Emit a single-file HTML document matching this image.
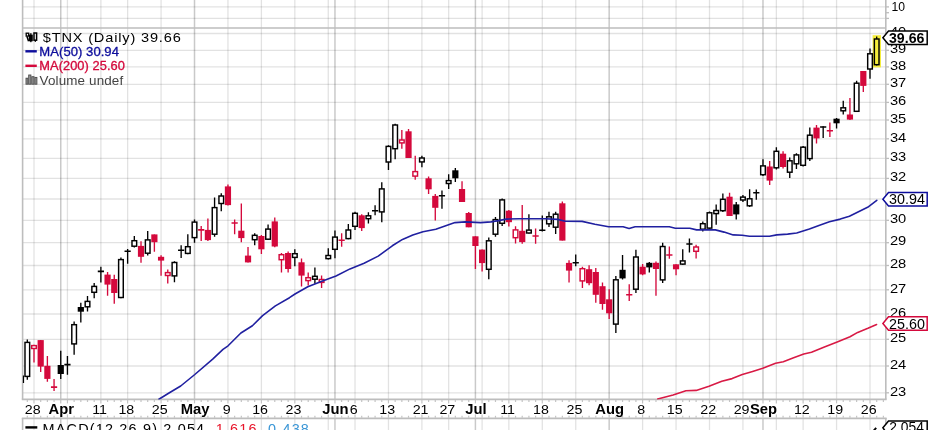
<!DOCTYPE html>
<html><head><meta charset="utf-8"><title>$TNX</title>
<style>
html,body{margin:0;padding:0;background:#fff;}
body{width:936px;height:430px;position:relative;overflow:hidden;font-family:"Liberation Sans",sans-serif;color:#000;}
svg{position:absolute;left:0;top:0;display:block;will-change:transform;opacity:0.9999}
</style></head><body>
<svg width="936" height="430" viewBox="0 0 936 430" font-family="Liberation Sans, sans-serif">
<rect x="0" y="0" width="936" height="430" fill="#fff"/>
<line x1="34.00" y1="0" x2="34.00" y2="28.0" stroke="#000" stroke-opacity="0.115" stroke-width="1.3"/>
<line x1="67.44" y1="0" x2="67.44" y2="28.0" stroke="#000" stroke-opacity="0.115" stroke-width="1.3"/>
<line x1="100.88" y1="0" x2="100.88" y2="28.0" stroke="#000" stroke-opacity="0.115" stroke-width="1.3"/>
<line x1="127.63" y1="0" x2="127.63" y2="28.0" stroke="#000" stroke-opacity="0.115" stroke-width="1.3"/>
<line x1="161.07" y1="0" x2="161.07" y2="28.0" stroke="#000" stroke-opacity="0.115" stroke-width="1.3"/>
<line x1="227.95" y1="0" x2="227.95" y2="28.0" stroke="#000" stroke-opacity="0.115" stroke-width="1.3"/>
<line x1="261.39" y1="0" x2="261.39" y2="28.0" stroke="#000" stroke-opacity="0.115" stroke-width="1.3"/>
<line x1="294.83" y1="0" x2="294.83" y2="28.0" stroke="#000" stroke-opacity="0.115" stroke-width="1.3"/>
<line x1="328.27" y1="0" x2="328.27" y2="28.0" stroke="#000" stroke-opacity="0.115" stroke-width="1.3"/>
<line x1="355.02" y1="0" x2="355.02" y2="28.0" stroke="#000" stroke-opacity="0.115" stroke-width="1.3"/>
<line x1="388.46" y1="0" x2="388.46" y2="28.0" stroke="#000" stroke-opacity="0.115" stroke-width="1.3"/>
<line x1="421.90" y1="0" x2="421.90" y2="28.0" stroke="#000" stroke-opacity="0.115" stroke-width="1.3"/>
<line x1="448.66" y1="0" x2="448.66" y2="28.0" stroke="#000" stroke-opacity="0.115" stroke-width="1.3"/>
<line x1="482.10" y1="0" x2="482.10" y2="28.0" stroke="#000" stroke-opacity="0.115" stroke-width="1.3"/>
<line x1="508.85" y1="0" x2="508.85" y2="28.0" stroke="#000" stroke-opacity="0.115" stroke-width="1.3"/>
<line x1="542.29" y1="0" x2="542.29" y2="28.0" stroke="#000" stroke-opacity="0.115" stroke-width="1.3"/>
<line x1="575.73" y1="0" x2="575.73" y2="28.0" stroke="#000" stroke-opacity="0.115" stroke-width="1.3"/>
<line x1="642.61" y1="0" x2="642.61" y2="28.0" stroke="#000" stroke-opacity="0.115" stroke-width="1.3"/>
<line x1="676.05" y1="0" x2="676.05" y2="28.0" stroke="#000" stroke-opacity="0.115" stroke-width="1.3"/>
<line x1="709.49" y1="0" x2="709.49" y2="28.0" stroke="#000" stroke-opacity="0.115" stroke-width="1.3"/>
<line x1="742.93" y1="0" x2="742.93" y2="28.0" stroke="#000" stroke-opacity="0.115" stroke-width="1.3"/>
<line x1="776.37" y1="0" x2="776.37" y2="28.0" stroke="#000" stroke-opacity="0.115" stroke-width="1.3"/>
<line x1="803.12" y1="0" x2="803.12" y2="28.0" stroke="#000" stroke-opacity="0.115" stroke-width="1.3"/>
<line x1="836.56" y1="0" x2="836.56" y2="28.0" stroke="#000" stroke-opacity="0.115" stroke-width="1.3"/>
<line x1="870.00" y1="0" x2="870.00" y2="28.0" stroke="#000" stroke-opacity="0.115" stroke-width="1.3"/>
<line x1="60.75" y1="0" x2="60.75" y2="28.0" stroke="#000" stroke-opacity="0.21" stroke-width="1.5"/>
<line x1="194.51" y1="0" x2="194.51" y2="28.0" stroke="#000" stroke-opacity="0.21" stroke-width="1.5"/>
<line x1="334.96" y1="0" x2="334.96" y2="28.0" stroke="#000" stroke-opacity="0.21" stroke-width="1.5"/>
<line x1="475.41" y1="0" x2="475.41" y2="28.0" stroke="#000" stroke-opacity="0.21" stroke-width="1.5"/>
<line x1="609.17" y1="0" x2="609.17" y2="28.0" stroke="#000" stroke-opacity="0.21" stroke-width="1.5"/>
<line x1="762.99" y1="0" x2="762.99" y2="28.0" stroke="#000" stroke-opacity="0.21" stroke-width="1.5"/>
<line x1="34.00" y1="28.0" x2="34.00" y2="399.4" stroke="#000" stroke-opacity="0.115" stroke-width="1.3"/>
<line x1="67.44" y1="28.0" x2="67.44" y2="399.4" stroke="#000" stroke-opacity="0.115" stroke-width="1.3"/>
<line x1="100.88" y1="28.0" x2="100.88" y2="399.4" stroke="#000" stroke-opacity="0.115" stroke-width="1.3"/>
<line x1="127.63" y1="28.0" x2="127.63" y2="399.4" stroke="#000" stroke-opacity="0.115" stroke-width="1.3"/>
<line x1="161.07" y1="28.0" x2="161.07" y2="399.4" stroke="#000" stroke-opacity="0.115" stroke-width="1.3"/>
<line x1="227.95" y1="28.0" x2="227.95" y2="399.4" stroke="#000" stroke-opacity="0.115" stroke-width="1.3"/>
<line x1="261.39" y1="28.0" x2="261.39" y2="399.4" stroke="#000" stroke-opacity="0.115" stroke-width="1.3"/>
<line x1="294.83" y1="28.0" x2="294.83" y2="399.4" stroke="#000" stroke-opacity="0.115" stroke-width="1.3"/>
<line x1="328.27" y1="28.0" x2="328.27" y2="399.4" stroke="#000" stroke-opacity="0.115" stroke-width="1.3"/>
<line x1="355.02" y1="28.0" x2="355.02" y2="399.4" stroke="#000" stroke-opacity="0.115" stroke-width="1.3"/>
<line x1="388.46" y1="28.0" x2="388.46" y2="399.4" stroke="#000" stroke-opacity="0.115" stroke-width="1.3"/>
<line x1="421.90" y1="28.0" x2="421.90" y2="399.4" stroke="#000" stroke-opacity="0.115" stroke-width="1.3"/>
<line x1="448.66" y1="28.0" x2="448.66" y2="399.4" stroke="#000" stroke-opacity="0.115" stroke-width="1.3"/>
<line x1="482.10" y1="28.0" x2="482.10" y2="399.4" stroke="#000" stroke-opacity="0.115" stroke-width="1.3"/>
<line x1="508.85" y1="28.0" x2="508.85" y2="399.4" stroke="#000" stroke-opacity="0.115" stroke-width="1.3"/>
<line x1="542.29" y1="28.0" x2="542.29" y2="399.4" stroke="#000" stroke-opacity="0.115" stroke-width="1.3"/>
<line x1="575.73" y1="28.0" x2="575.73" y2="399.4" stroke="#000" stroke-opacity="0.115" stroke-width="1.3"/>
<line x1="642.61" y1="28.0" x2="642.61" y2="399.4" stroke="#000" stroke-opacity="0.115" stroke-width="1.3"/>
<line x1="676.05" y1="28.0" x2="676.05" y2="399.4" stroke="#000" stroke-opacity="0.115" stroke-width="1.3"/>
<line x1="709.49" y1="28.0" x2="709.49" y2="399.4" stroke="#000" stroke-opacity="0.115" stroke-width="1.3"/>
<line x1="742.93" y1="28.0" x2="742.93" y2="399.4" stroke="#000" stroke-opacity="0.115" stroke-width="1.3"/>
<line x1="776.37" y1="28.0" x2="776.37" y2="399.4" stroke="#000" stroke-opacity="0.115" stroke-width="1.3"/>
<line x1="803.12" y1="28.0" x2="803.12" y2="399.4" stroke="#000" stroke-opacity="0.115" stroke-width="1.3"/>
<line x1="836.56" y1="28.0" x2="836.56" y2="399.4" stroke="#000" stroke-opacity="0.115" stroke-width="1.3"/>
<line x1="870.00" y1="28.0" x2="870.00" y2="399.4" stroke="#000" stroke-opacity="0.115" stroke-width="1.3"/>
<line x1="60.75" y1="28.0" x2="60.75" y2="399.4" stroke="#000" stroke-opacity="0.21" stroke-width="1.5"/>
<line x1="194.51" y1="28.0" x2="194.51" y2="399.4" stroke="#000" stroke-opacity="0.21" stroke-width="1.5"/>
<line x1="334.96" y1="28.0" x2="334.96" y2="399.4" stroke="#000" stroke-opacity="0.21" stroke-width="1.5"/>
<line x1="475.41" y1="28.0" x2="475.41" y2="399.4" stroke="#000" stroke-opacity="0.21" stroke-width="1.5"/>
<line x1="609.17" y1="28.0" x2="609.17" y2="399.4" stroke="#000" stroke-opacity="0.21" stroke-width="1.5"/>
<line x1="762.99" y1="28.0" x2="762.99" y2="399.4" stroke="#000" stroke-opacity="0.21" stroke-width="1.5"/>
<line x1="34.00" y1="418" x2="34.00" y2="430" stroke="#000" stroke-opacity="0.115" stroke-width="1.3"/>
<line x1="67.44" y1="418" x2="67.44" y2="430" stroke="#000" stroke-opacity="0.115" stroke-width="1.3"/>
<line x1="100.88" y1="418" x2="100.88" y2="430" stroke="#000" stroke-opacity="0.115" stroke-width="1.3"/>
<line x1="127.63" y1="418" x2="127.63" y2="430" stroke="#000" stroke-opacity="0.115" stroke-width="1.3"/>
<line x1="161.07" y1="418" x2="161.07" y2="430" stroke="#000" stroke-opacity="0.115" stroke-width="1.3"/>
<line x1="227.95" y1="418" x2="227.95" y2="430" stroke="#000" stroke-opacity="0.115" stroke-width="1.3"/>
<line x1="261.39" y1="418" x2="261.39" y2="430" stroke="#000" stroke-opacity="0.115" stroke-width="1.3"/>
<line x1="294.83" y1="418" x2="294.83" y2="430" stroke="#000" stroke-opacity="0.115" stroke-width="1.3"/>
<line x1="328.27" y1="418" x2="328.27" y2="430" stroke="#000" stroke-opacity="0.115" stroke-width="1.3"/>
<line x1="355.02" y1="418" x2="355.02" y2="430" stroke="#000" stroke-opacity="0.115" stroke-width="1.3"/>
<line x1="388.46" y1="418" x2="388.46" y2="430" stroke="#000" stroke-opacity="0.115" stroke-width="1.3"/>
<line x1="421.90" y1="418" x2="421.90" y2="430" stroke="#000" stroke-opacity="0.115" stroke-width="1.3"/>
<line x1="448.66" y1="418" x2="448.66" y2="430" stroke="#000" stroke-opacity="0.115" stroke-width="1.3"/>
<line x1="482.10" y1="418" x2="482.10" y2="430" stroke="#000" stroke-opacity="0.115" stroke-width="1.3"/>
<line x1="508.85" y1="418" x2="508.85" y2="430" stroke="#000" stroke-opacity="0.115" stroke-width="1.3"/>
<line x1="542.29" y1="418" x2="542.29" y2="430" stroke="#000" stroke-opacity="0.115" stroke-width="1.3"/>
<line x1="575.73" y1="418" x2="575.73" y2="430" stroke="#000" stroke-opacity="0.115" stroke-width="1.3"/>
<line x1="642.61" y1="418" x2="642.61" y2="430" stroke="#000" stroke-opacity="0.115" stroke-width="1.3"/>
<line x1="676.05" y1="418" x2="676.05" y2="430" stroke="#000" stroke-opacity="0.115" stroke-width="1.3"/>
<line x1="709.49" y1="418" x2="709.49" y2="430" stroke="#000" stroke-opacity="0.115" stroke-width="1.3"/>
<line x1="742.93" y1="418" x2="742.93" y2="430" stroke="#000" stroke-opacity="0.115" stroke-width="1.3"/>
<line x1="776.37" y1="418" x2="776.37" y2="430" stroke="#000" stroke-opacity="0.115" stroke-width="1.3"/>
<line x1="803.12" y1="418" x2="803.12" y2="430" stroke="#000" stroke-opacity="0.115" stroke-width="1.3"/>
<line x1="836.56" y1="418" x2="836.56" y2="430" stroke="#000" stroke-opacity="0.115" stroke-width="1.3"/>
<line x1="870.00" y1="418" x2="870.00" y2="430" stroke="#000" stroke-opacity="0.115" stroke-width="1.3"/>
<line x1="60.75" y1="418" x2="60.75" y2="430" stroke="#000" stroke-opacity="0.21" stroke-width="1.5"/>
<line x1="194.51" y1="418" x2="194.51" y2="430" stroke="#000" stroke-opacity="0.21" stroke-width="1.5"/>
<line x1="334.96" y1="418" x2="334.96" y2="430" stroke="#000" stroke-opacity="0.21" stroke-width="1.5"/>
<line x1="475.41" y1="418" x2="475.41" y2="430" stroke="#000" stroke-opacity="0.21" stroke-width="1.5"/>
<line x1="609.17" y1="418" x2="609.17" y2="430" stroke="#000" stroke-opacity="0.21" stroke-width="1.5"/>
<line x1="762.99" y1="418" x2="762.99" y2="430" stroke="#000" stroke-opacity="0.21" stroke-width="1.5"/>
<line x1="22.6" y1="6.9" x2="885.8" y2="6.9" stroke="#000" stroke-opacity="0.115" stroke-width="1.3"/>
<line x1="22.6" y1="18.4" x2="885.8" y2="18.4" stroke="#000" stroke-opacity="0.115" stroke-width="1.3"/>
<line x1="22.6" y1="392.80" x2="885.8" y2="392.80" stroke="#000" stroke-opacity="0.115" stroke-width="1.3"/>
<line x1="22.6" y1="366.00" x2="885.8" y2="366.00" stroke="#000" stroke-opacity="0.115" stroke-width="1.3"/>
<line x1="22.6" y1="339.30" x2="885.8" y2="339.30" stroke="#000" stroke-opacity="0.115" stroke-width="1.3"/>
<line x1="22.6" y1="314.00" x2="885.8" y2="314.00" stroke="#000" stroke-opacity="0.115" stroke-width="1.3"/>
<line x1="22.6" y1="289.80" x2="885.8" y2="289.80" stroke="#000" stroke-opacity="0.115" stroke-width="1.3"/>
<line x1="22.6" y1="265.50" x2="885.8" y2="265.50" stroke="#000" stroke-opacity="0.115" stroke-width="1.3"/>
<line x1="22.6" y1="242.70" x2="885.8" y2="242.70" stroke="#000" stroke-opacity="0.115" stroke-width="1.3"/>
<line x1="22.6" y1="220.30" x2="885.8" y2="220.30" stroke="#000" stroke-opacity="0.115" stroke-width="1.3"/>
<line x1="22.6" y1="199.00" x2="885.8" y2="199.00" stroke="#000" stroke-opacity="0.115" stroke-width="1.3"/>
<line x1="22.6" y1="178.40" x2="885.8" y2="178.40" stroke="#000" stroke-opacity="0.115" stroke-width="1.3"/>
<line x1="22.6" y1="158.40" x2="885.8" y2="158.40" stroke="#000" stroke-opacity="0.115" stroke-width="1.3"/>
<line x1="22.6" y1="138.80" x2="885.8" y2="138.80" stroke="#000" stroke-opacity="0.115" stroke-width="1.3"/>
<line x1="22.6" y1="120.00" x2="885.8" y2="120.00" stroke="#000" stroke-opacity="0.115" stroke-width="1.3"/>
<line x1="22.6" y1="102.40" x2="885.8" y2="102.40" stroke="#000" stroke-opacity="0.115" stroke-width="1.3"/>
<line x1="22.6" y1="84.30" x2="885.8" y2="84.30" stroke="#000" stroke-opacity="0.115" stroke-width="1.3"/>
<line x1="22.6" y1="66.90" x2="885.8" y2="66.90" stroke="#000" stroke-opacity="0.115" stroke-width="1.3"/>
<line x1="22.6" y1="50.30" x2="885.8" y2="50.30" stroke="#000" stroke-opacity="0.115" stroke-width="1.3"/>
<line x1="22.6" y1="33.50" x2="885.8" y2="33.50" stroke="#000" stroke-opacity="0.115" stroke-width="1.3"/>
<line x1="22.6" y1="0" x2="22.6" y2="399.4" stroke="#bdbdbd" stroke-width="1.6"/>
<line x1="885.8" y1="0" x2="885.8" y2="399.4" stroke="#bdbdbd" stroke-width="1.6"/>
<line x1="22.6" y1="28.0" x2="885.8" y2="28.0" stroke="#bdbdbd" stroke-width="1.6"/>
<line x1="21.8" y1="399.4" x2="886.5999999999999" y2="399.4" stroke="#bdbdbd" stroke-width="1.6"/>
<line x1="21.8" y1="418.4" x2="886.5999999999999" y2="418.4" stroke="#bdbdbd" stroke-width="1.6"/>
<line x1="22.6" y1="418" x2="22.6" y2="430" stroke="#bdbdbd" stroke-width="1.6"/>
<line x1="885.8" y1="418" x2="885.8" y2="430" stroke="#bdbdbd" stroke-width="1.6"/>
<line x1="27.31" y1="400.0" x2="27.31" y2="402.0" stroke="#c4c4c4" stroke-width="1.2"/>
<line x1="27.31" y1="415.8" x2="27.31" y2="417.8" stroke="#c4c4c4" stroke-width="1.2"/>
<line x1="34.00" y1="400.0" x2="34.00" y2="403.4" stroke="#c4c4c4" stroke-width="1.2"/>
<line x1="34.00" y1="414.40000000000003" x2="34.00" y2="417.8" stroke="#c4c4c4" stroke-width="1.2"/>
<line x1="40.69" y1="400.0" x2="40.69" y2="402.0" stroke="#c4c4c4" stroke-width="1.2"/>
<line x1="40.69" y1="415.8" x2="40.69" y2="417.8" stroke="#c4c4c4" stroke-width="1.2"/>
<line x1="47.38" y1="400.0" x2="47.38" y2="402.0" stroke="#c4c4c4" stroke-width="1.2"/>
<line x1="47.38" y1="415.8" x2="47.38" y2="417.8" stroke="#c4c4c4" stroke-width="1.2"/>
<line x1="54.06" y1="400.0" x2="54.06" y2="402.0" stroke="#c4c4c4" stroke-width="1.2"/>
<line x1="54.06" y1="415.8" x2="54.06" y2="417.8" stroke="#c4c4c4" stroke-width="1.2"/>
<line x1="60.75" y1="400.0" x2="60.75" y2="403.4" stroke="#c4c4c4" stroke-width="1.2"/>
<line x1="60.75" y1="414.40000000000003" x2="60.75" y2="417.8" stroke="#c4c4c4" stroke-width="1.2"/>
<line x1="67.44" y1="400.0" x2="67.44" y2="403.4" stroke="#c4c4c4" stroke-width="1.2"/>
<line x1="67.44" y1="414.40000000000003" x2="67.44" y2="417.8" stroke="#c4c4c4" stroke-width="1.2"/>
<line x1="74.13" y1="400.0" x2="74.13" y2="402.0" stroke="#c4c4c4" stroke-width="1.2"/>
<line x1="74.13" y1="415.8" x2="74.13" y2="417.8" stroke="#c4c4c4" stroke-width="1.2"/>
<line x1="80.82" y1="400.0" x2="80.82" y2="402.0" stroke="#c4c4c4" stroke-width="1.2"/>
<line x1="80.82" y1="415.8" x2="80.82" y2="417.8" stroke="#c4c4c4" stroke-width="1.2"/>
<line x1="87.50" y1="400.0" x2="87.50" y2="402.0" stroke="#c4c4c4" stroke-width="1.2"/>
<line x1="87.50" y1="415.8" x2="87.50" y2="417.8" stroke="#c4c4c4" stroke-width="1.2"/>
<line x1="94.19" y1="400.0" x2="94.19" y2="402.0" stroke="#c4c4c4" stroke-width="1.2"/>
<line x1="94.19" y1="415.8" x2="94.19" y2="417.8" stroke="#c4c4c4" stroke-width="1.2"/>
<line x1="100.88" y1="400.0" x2="100.88" y2="403.4" stroke="#c4c4c4" stroke-width="1.2"/>
<line x1="100.88" y1="414.40000000000003" x2="100.88" y2="417.8" stroke="#c4c4c4" stroke-width="1.2"/>
<line x1="107.57" y1="400.0" x2="107.57" y2="402.0" stroke="#c4c4c4" stroke-width="1.2"/>
<line x1="107.57" y1="415.8" x2="107.57" y2="417.8" stroke="#c4c4c4" stroke-width="1.2"/>
<line x1="114.26" y1="400.0" x2="114.26" y2="402.0" stroke="#c4c4c4" stroke-width="1.2"/>
<line x1="114.26" y1="415.8" x2="114.26" y2="417.8" stroke="#c4c4c4" stroke-width="1.2"/>
<line x1="120.94" y1="400.0" x2="120.94" y2="402.0" stroke="#c4c4c4" stroke-width="1.2"/>
<line x1="120.94" y1="415.8" x2="120.94" y2="417.8" stroke="#c4c4c4" stroke-width="1.2"/>
<line x1="127.63" y1="400.0" x2="127.63" y2="403.4" stroke="#c4c4c4" stroke-width="1.2"/>
<line x1="127.63" y1="414.40000000000003" x2="127.63" y2="417.8" stroke="#c4c4c4" stroke-width="1.2"/>
<line x1="134.32" y1="400.0" x2="134.32" y2="402.0" stroke="#c4c4c4" stroke-width="1.2"/>
<line x1="134.32" y1="415.8" x2="134.32" y2="417.8" stroke="#c4c4c4" stroke-width="1.2"/>
<line x1="141.01" y1="400.0" x2="141.01" y2="402.0" stroke="#c4c4c4" stroke-width="1.2"/>
<line x1="141.01" y1="415.8" x2="141.01" y2="417.8" stroke="#c4c4c4" stroke-width="1.2"/>
<line x1="147.70" y1="400.0" x2="147.70" y2="402.0" stroke="#c4c4c4" stroke-width="1.2"/>
<line x1="147.70" y1="415.8" x2="147.70" y2="417.8" stroke="#c4c4c4" stroke-width="1.2"/>
<line x1="154.38" y1="400.0" x2="154.38" y2="402.0" stroke="#c4c4c4" stroke-width="1.2"/>
<line x1="154.38" y1="415.8" x2="154.38" y2="417.8" stroke="#c4c4c4" stroke-width="1.2"/>
<line x1="161.07" y1="400.0" x2="161.07" y2="403.4" stroke="#c4c4c4" stroke-width="1.2"/>
<line x1="161.07" y1="414.40000000000003" x2="161.07" y2="417.8" stroke="#c4c4c4" stroke-width="1.2"/>
<line x1="167.76" y1="400.0" x2="167.76" y2="402.0" stroke="#c4c4c4" stroke-width="1.2"/>
<line x1="167.76" y1="415.8" x2="167.76" y2="417.8" stroke="#c4c4c4" stroke-width="1.2"/>
<line x1="174.45" y1="400.0" x2="174.45" y2="402.0" stroke="#c4c4c4" stroke-width="1.2"/>
<line x1="174.45" y1="415.8" x2="174.45" y2="417.8" stroke="#c4c4c4" stroke-width="1.2"/>
<line x1="181.14" y1="400.0" x2="181.14" y2="402.0" stroke="#c4c4c4" stroke-width="1.2"/>
<line x1="181.14" y1="415.8" x2="181.14" y2="417.8" stroke="#c4c4c4" stroke-width="1.2"/>
<line x1="187.82" y1="400.0" x2="187.82" y2="402.0" stroke="#c4c4c4" stroke-width="1.2"/>
<line x1="187.82" y1="415.8" x2="187.82" y2="417.8" stroke="#c4c4c4" stroke-width="1.2"/>
<line x1="194.51" y1="400.0" x2="194.51" y2="403.4" stroke="#c4c4c4" stroke-width="1.2"/>
<line x1="194.51" y1="414.40000000000003" x2="194.51" y2="417.8" stroke="#c4c4c4" stroke-width="1.2"/>
<line x1="201.20" y1="400.0" x2="201.20" y2="402.0" stroke="#c4c4c4" stroke-width="1.2"/>
<line x1="201.20" y1="415.8" x2="201.20" y2="417.8" stroke="#c4c4c4" stroke-width="1.2"/>
<line x1="207.89" y1="400.0" x2="207.89" y2="402.0" stroke="#c4c4c4" stroke-width="1.2"/>
<line x1="207.89" y1="415.8" x2="207.89" y2="417.8" stroke="#c4c4c4" stroke-width="1.2"/>
<line x1="214.58" y1="400.0" x2="214.58" y2="402.0" stroke="#c4c4c4" stroke-width="1.2"/>
<line x1="214.58" y1="415.8" x2="214.58" y2="417.8" stroke="#c4c4c4" stroke-width="1.2"/>
<line x1="221.26" y1="400.0" x2="221.26" y2="402.0" stroke="#c4c4c4" stroke-width="1.2"/>
<line x1="221.26" y1="415.8" x2="221.26" y2="417.8" stroke="#c4c4c4" stroke-width="1.2"/>
<line x1="227.95" y1="400.0" x2="227.95" y2="403.4" stroke="#c4c4c4" stroke-width="1.2"/>
<line x1="227.95" y1="414.40000000000003" x2="227.95" y2="417.8" stroke="#c4c4c4" stroke-width="1.2"/>
<line x1="234.64" y1="400.0" x2="234.64" y2="402.0" stroke="#c4c4c4" stroke-width="1.2"/>
<line x1="234.64" y1="415.8" x2="234.64" y2="417.8" stroke="#c4c4c4" stroke-width="1.2"/>
<line x1="241.33" y1="400.0" x2="241.33" y2="402.0" stroke="#c4c4c4" stroke-width="1.2"/>
<line x1="241.33" y1="415.8" x2="241.33" y2="417.8" stroke="#c4c4c4" stroke-width="1.2"/>
<line x1="248.02" y1="400.0" x2="248.02" y2="402.0" stroke="#c4c4c4" stroke-width="1.2"/>
<line x1="248.02" y1="415.8" x2="248.02" y2="417.8" stroke="#c4c4c4" stroke-width="1.2"/>
<line x1="254.70" y1="400.0" x2="254.70" y2="402.0" stroke="#c4c4c4" stroke-width="1.2"/>
<line x1="254.70" y1="415.8" x2="254.70" y2="417.8" stroke="#c4c4c4" stroke-width="1.2"/>
<line x1="261.39" y1="400.0" x2="261.39" y2="403.4" stroke="#c4c4c4" stroke-width="1.2"/>
<line x1="261.39" y1="414.40000000000003" x2="261.39" y2="417.8" stroke="#c4c4c4" stroke-width="1.2"/>
<line x1="268.08" y1="400.0" x2="268.08" y2="402.0" stroke="#c4c4c4" stroke-width="1.2"/>
<line x1="268.08" y1="415.8" x2="268.08" y2="417.8" stroke="#c4c4c4" stroke-width="1.2"/>
<line x1="274.77" y1="400.0" x2="274.77" y2="402.0" stroke="#c4c4c4" stroke-width="1.2"/>
<line x1="274.77" y1="415.8" x2="274.77" y2="417.8" stroke="#c4c4c4" stroke-width="1.2"/>
<line x1="281.46" y1="400.0" x2="281.46" y2="402.0" stroke="#c4c4c4" stroke-width="1.2"/>
<line x1="281.46" y1="415.8" x2="281.46" y2="417.8" stroke="#c4c4c4" stroke-width="1.2"/>
<line x1="288.14" y1="400.0" x2="288.14" y2="402.0" stroke="#c4c4c4" stroke-width="1.2"/>
<line x1="288.14" y1="415.8" x2="288.14" y2="417.8" stroke="#c4c4c4" stroke-width="1.2"/>
<line x1="294.83" y1="400.0" x2="294.83" y2="403.4" stroke="#c4c4c4" stroke-width="1.2"/>
<line x1="294.83" y1="414.40000000000003" x2="294.83" y2="417.8" stroke="#c4c4c4" stroke-width="1.2"/>
<line x1="301.52" y1="400.0" x2="301.52" y2="402.0" stroke="#c4c4c4" stroke-width="1.2"/>
<line x1="301.52" y1="415.8" x2="301.52" y2="417.8" stroke="#c4c4c4" stroke-width="1.2"/>
<line x1="308.21" y1="400.0" x2="308.21" y2="402.0" stroke="#c4c4c4" stroke-width="1.2"/>
<line x1="308.21" y1="415.8" x2="308.21" y2="417.8" stroke="#c4c4c4" stroke-width="1.2"/>
<line x1="314.90" y1="400.0" x2="314.90" y2="402.0" stroke="#c4c4c4" stroke-width="1.2"/>
<line x1="314.90" y1="415.8" x2="314.90" y2="417.8" stroke="#c4c4c4" stroke-width="1.2"/>
<line x1="321.58" y1="400.0" x2="321.58" y2="402.0" stroke="#c4c4c4" stroke-width="1.2"/>
<line x1="321.58" y1="415.8" x2="321.58" y2="417.8" stroke="#c4c4c4" stroke-width="1.2"/>
<line x1="328.27" y1="400.0" x2="328.27" y2="403.4" stroke="#c4c4c4" stroke-width="1.2"/>
<line x1="328.27" y1="414.40000000000003" x2="328.27" y2="417.8" stroke="#c4c4c4" stroke-width="1.2"/>
<line x1="334.96" y1="400.0" x2="334.96" y2="403.4" stroke="#c4c4c4" stroke-width="1.2"/>
<line x1="334.96" y1="414.40000000000003" x2="334.96" y2="417.8" stroke="#c4c4c4" stroke-width="1.2"/>
<line x1="341.65" y1="400.0" x2="341.65" y2="402.0" stroke="#c4c4c4" stroke-width="1.2"/>
<line x1="341.65" y1="415.8" x2="341.65" y2="417.8" stroke="#c4c4c4" stroke-width="1.2"/>
<line x1="348.34" y1="400.0" x2="348.34" y2="402.0" stroke="#c4c4c4" stroke-width="1.2"/>
<line x1="348.34" y1="415.8" x2="348.34" y2="417.8" stroke="#c4c4c4" stroke-width="1.2"/>
<line x1="355.02" y1="400.0" x2="355.02" y2="403.4" stroke="#c4c4c4" stroke-width="1.2"/>
<line x1="355.02" y1="414.40000000000003" x2="355.02" y2="417.8" stroke="#c4c4c4" stroke-width="1.2"/>
<line x1="361.71" y1="400.0" x2="361.71" y2="402.0" stroke="#c4c4c4" stroke-width="1.2"/>
<line x1="361.71" y1="415.8" x2="361.71" y2="417.8" stroke="#c4c4c4" stroke-width="1.2"/>
<line x1="368.40" y1="400.0" x2="368.40" y2="402.0" stroke="#c4c4c4" stroke-width="1.2"/>
<line x1="368.40" y1="415.8" x2="368.40" y2="417.8" stroke="#c4c4c4" stroke-width="1.2"/>
<line x1="375.09" y1="400.0" x2="375.09" y2="402.0" stroke="#c4c4c4" stroke-width="1.2"/>
<line x1="375.09" y1="415.8" x2="375.09" y2="417.8" stroke="#c4c4c4" stroke-width="1.2"/>
<line x1="381.78" y1="400.0" x2="381.78" y2="402.0" stroke="#c4c4c4" stroke-width="1.2"/>
<line x1="381.78" y1="415.8" x2="381.78" y2="417.8" stroke="#c4c4c4" stroke-width="1.2"/>
<line x1="388.46" y1="400.0" x2="388.46" y2="403.4" stroke="#c4c4c4" stroke-width="1.2"/>
<line x1="388.46" y1="414.40000000000003" x2="388.46" y2="417.8" stroke="#c4c4c4" stroke-width="1.2"/>
<line x1="395.15" y1="400.0" x2="395.15" y2="402.0" stroke="#c4c4c4" stroke-width="1.2"/>
<line x1="395.15" y1="415.8" x2="395.15" y2="417.8" stroke="#c4c4c4" stroke-width="1.2"/>
<line x1="401.84" y1="400.0" x2="401.84" y2="402.0" stroke="#c4c4c4" stroke-width="1.2"/>
<line x1="401.84" y1="415.8" x2="401.84" y2="417.8" stroke="#c4c4c4" stroke-width="1.2"/>
<line x1="408.53" y1="400.0" x2="408.53" y2="402.0" stroke="#c4c4c4" stroke-width="1.2"/>
<line x1="408.53" y1="415.8" x2="408.53" y2="417.8" stroke="#c4c4c4" stroke-width="1.2"/>
<line x1="415.22" y1="400.0" x2="415.22" y2="402.0" stroke="#c4c4c4" stroke-width="1.2"/>
<line x1="415.22" y1="415.8" x2="415.22" y2="417.8" stroke="#c4c4c4" stroke-width="1.2"/>
<line x1="421.90" y1="400.0" x2="421.90" y2="403.4" stroke="#c4c4c4" stroke-width="1.2"/>
<line x1="421.90" y1="414.40000000000003" x2="421.90" y2="417.8" stroke="#c4c4c4" stroke-width="1.2"/>
<line x1="428.59" y1="400.0" x2="428.59" y2="402.0" stroke="#c4c4c4" stroke-width="1.2"/>
<line x1="428.59" y1="415.8" x2="428.59" y2="417.8" stroke="#c4c4c4" stroke-width="1.2"/>
<line x1="435.28" y1="400.0" x2="435.28" y2="402.0" stroke="#c4c4c4" stroke-width="1.2"/>
<line x1="435.28" y1="415.8" x2="435.28" y2="417.8" stroke="#c4c4c4" stroke-width="1.2"/>
<line x1="441.97" y1="400.0" x2="441.97" y2="402.0" stroke="#c4c4c4" stroke-width="1.2"/>
<line x1="441.97" y1="415.8" x2="441.97" y2="417.8" stroke="#c4c4c4" stroke-width="1.2"/>
<line x1="448.66" y1="400.0" x2="448.66" y2="403.4" stroke="#c4c4c4" stroke-width="1.2"/>
<line x1="448.66" y1="414.40000000000003" x2="448.66" y2="417.8" stroke="#c4c4c4" stroke-width="1.2"/>
<line x1="455.34" y1="400.0" x2="455.34" y2="402.0" stroke="#c4c4c4" stroke-width="1.2"/>
<line x1="455.34" y1="415.8" x2="455.34" y2="417.8" stroke="#c4c4c4" stroke-width="1.2"/>
<line x1="462.03" y1="400.0" x2="462.03" y2="402.0" stroke="#c4c4c4" stroke-width="1.2"/>
<line x1="462.03" y1="415.8" x2="462.03" y2="417.8" stroke="#c4c4c4" stroke-width="1.2"/>
<line x1="468.72" y1="400.0" x2="468.72" y2="402.0" stroke="#c4c4c4" stroke-width="1.2"/>
<line x1="468.72" y1="415.8" x2="468.72" y2="417.8" stroke="#c4c4c4" stroke-width="1.2"/>
<line x1="475.41" y1="400.0" x2="475.41" y2="403.4" stroke="#c4c4c4" stroke-width="1.2"/>
<line x1="475.41" y1="414.40000000000003" x2="475.41" y2="417.8" stroke="#c4c4c4" stroke-width="1.2"/>
<line x1="482.10" y1="400.0" x2="482.10" y2="403.4" stroke="#c4c4c4" stroke-width="1.2"/>
<line x1="482.10" y1="414.40000000000003" x2="482.10" y2="417.8" stroke="#c4c4c4" stroke-width="1.2"/>
<line x1="488.78" y1="400.0" x2="488.78" y2="402.0" stroke="#c4c4c4" stroke-width="1.2"/>
<line x1="488.78" y1="415.8" x2="488.78" y2="417.8" stroke="#c4c4c4" stroke-width="1.2"/>
<line x1="495.47" y1="400.0" x2="495.47" y2="402.0" stroke="#c4c4c4" stroke-width="1.2"/>
<line x1="495.47" y1="415.8" x2="495.47" y2="417.8" stroke="#c4c4c4" stroke-width="1.2"/>
<line x1="502.16" y1="400.0" x2="502.16" y2="402.0" stroke="#c4c4c4" stroke-width="1.2"/>
<line x1="502.16" y1="415.8" x2="502.16" y2="417.8" stroke="#c4c4c4" stroke-width="1.2"/>
<line x1="508.85" y1="400.0" x2="508.85" y2="403.4" stroke="#c4c4c4" stroke-width="1.2"/>
<line x1="508.85" y1="414.40000000000003" x2="508.85" y2="417.8" stroke="#c4c4c4" stroke-width="1.2"/>
<line x1="515.54" y1="400.0" x2="515.54" y2="402.0" stroke="#c4c4c4" stroke-width="1.2"/>
<line x1="515.54" y1="415.8" x2="515.54" y2="417.8" stroke="#c4c4c4" stroke-width="1.2"/>
<line x1="522.22" y1="400.0" x2="522.22" y2="402.0" stroke="#c4c4c4" stroke-width="1.2"/>
<line x1="522.22" y1="415.8" x2="522.22" y2="417.8" stroke="#c4c4c4" stroke-width="1.2"/>
<line x1="528.91" y1="400.0" x2="528.91" y2="402.0" stroke="#c4c4c4" stroke-width="1.2"/>
<line x1="528.91" y1="415.8" x2="528.91" y2="417.8" stroke="#c4c4c4" stroke-width="1.2"/>
<line x1="535.60" y1="400.0" x2="535.60" y2="402.0" stroke="#c4c4c4" stroke-width="1.2"/>
<line x1="535.60" y1="415.8" x2="535.60" y2="417.8" stroke="#c4c4c4" stroke-width="1.2"/>
<line x1="542.29" y1="400.0" x2="542.29" y2="403.4" stroke="#c4c4c4" stroke-width="1.2"/>
<line x1="542.29" y1="414.40000000000003" x2="542.29" y2="417.8" stroke="#c4c4c4" stroke-width="1.2"/>
<line x1="548.98" y1="400.0" x2="548.98" y2="402.0" stroke="#c4c4c4" stroke-width="1.2"/>
<line x1="548.98" y1="415.8" x2="548.98" y2="417.8" stroke="#c4c4c4" stroke-width="1.2"/>
<line x1="555.66" y1="400.0" x2="555.66" y2="402.0" stroke="#c4c4c4" stroke-width="1.2"/>
<line x1="555.66" y1="415.8" x2="555.66" y2="417.8" stroke="#c4c4c4" stroke-width="1.2"/>
<line x1="562.35" y1="400.0" x2="562.35" y2="402.0" stroke="#c4c4c4" stroke-width="1.2"/>
<line x1="562.35" y1="415.8" x2="562.35" y2="417.8" stroke="#c4c4c4" stroke-width="1.2"/>
<line x1="569.04" y1="400.0" x2="569.04" y2="402.0" stroke="#c4c4c4" stroke-width="1.2"/>
<line x1="569.04" y1="415.8" x2="569.04" y2="417.8" stroke="#c4c4c4" stroke-width="1.2"/>
<line x1="575.73" y1="400.0" x2="575.73" y2="403.4" stroke="#c4c4c4" stroke-width="1.2"/>
<line x1="575.73" y1="414.40000000000003" x2="575.73" y2="417.8" stroke="#c4c4c4" stroke-width="1.2"/>
<line x1="582.42" y1="400.0" x2="582.42" y2="402.0" stroke="#c4c4c4" stroke-width="1.2"/>
<line x1="582.42" y1="415.8" x2="582.42" y2="417.8" stroke="#c4c4c4" stroke-width="1.2"/>
<line x1="589.10" y1="400.0" x2="589.10" y2="402.0" stroke="#c4c4c4" stroke-width="1.2"/>
<line x1="589.10" y1="415.8" x2="589.10" y2="417.8" stroke="#c4c4c4" stroke-width="1.2"/>
<line x1="595.79" y1="400.0" x2="595.79" y2="402.0" stroke="#c4c4c4" stroke-width="1.2"/>
<line x1="595.79" y1="415.8" x2="595.79" y2="417.8" stroke="#c4c4c4" stroke-width="1.2"/>
<line x1="602.48" y1="400.0" x2="602.48" y2="402.0" stroke="#c4c4c4" stroke-width="1.2"/>
<line x1="602.48" y1="415.8" x2="602.48" y2="417.8" stroke="#c4c4c4" stroke-width="1.2"/>
<line x1="609.17" y1="400.0" x2="609.17" y2="403.4" stroke="#c4c4c4" stroke-width="1.2"/>
<line x1="609.17" y1="414.40000000000003" x2="609.17" y2="417.8" stroke="#c4c4c4" stroke-width="1.2"/>
<line x1="615.86" y1="400.0" x2="615.86" y2="402.0" stroke="#c4c4c4" stroke-width="1.2"/>
<line x1="615.86" y1="415.8" x2="615.86" y2="417.8" stroke="#c4c4c4" stroke-width="1.2"/>
<line x1="622.54" y1="400.0" x2="622.54" y2="402.0" stroke="#c4c4c4" stroke-width="1.2"/>
<line x1="622.54" y1="415.8" x2="622.54" y2="417.8" stroke="#c4c4c4" stroke-width="1.2"/>
<line x1="629.23" y1="400.0" x2="629.23" y2="402.0" stroke="#c4c4c4" stroke-width="1.2"/>
<line x1="629.23" y1="415.8" x2="629.23" y2="417.8" stroke="#c4c4c4" stroke-width="1.2"/>
<line x1="635.92" y1="400.0" x2="635.92" y2="402.0" stroke="#c4c4c4" stroke-width="1.2"/>
<line x1="635.92" y1="415.8" x2="635.92" y2="417.8" stroke="#c4c4c4" stroke-width="1.2"/>
<line x1="642.61" y1="400.0" x2="642.61" y2="403.4" stroke="#c4c4c4" stroke-width="1.2"/>
<line x1="642.61" y1="414.40000000000003" x2="642.61" y2="417.8" stroke="#c4c4c4" stroke-width="1.2"/>
<line x1="649.30" y1="400.0" x2="649.30" y2="402.0" stroke="#c4c4c4" stroke-width="1.2"/>
<line x1="649.30" y1="415.8" x2="649.30" y2="417.8" stroke="#c4c4c4" stroke-width="1.2"/>
<line x1="655.98" y1="400.0" x2="655.98" y2="402.0" stroke="#c4c4c4" stroke-width="1.2"/>
<line x1="655.98" y1="415.8" x2="655.98" y2="417.8" stroke="#c4c4c4" stroke-width="1.2"/>
<line x1="662.67" y1="400.0" x2="662.67" y2="402.0" stroke="#c4c4c4" stroke-width="1.2"/>
<line x1="662.67" y1="415.8" x2="662.67" y2="417.8" stroke="#c4c4c4" stroke-width="1.2"/>
<line x1="669.36" y1="400.0" x2="669.36" y2="402.0" stroke="#c4c4c4" stroke-width="1.2"/>
<line x1="669.36" y1="415.8" x2="669.36" y2="417.8" stroke="#c4c4c4" stroke-width="1.2"/>
<line x1="676.05" y1="400.0" x2="676.05" y2="403.4" stroke="#c4c4c4" stroke-width="1.2"/>
<line x1="676.05" y1="414.40000000000003" x2="676.05" y2="417.8" stroke="#c4c4c4" stroke-width="1.2"/>
<line x1="682.74" y1="400.0" x2="682.74" y2="402.0" stroke="#c4c4c4" stroke-width="1.2"/>
<line x1="682.74" y1="415.8" x2="682.74" y2="417.8" stroke="#c4c4c4" stroke-width="1.2"/>
<line x1="689.42" y1="400.0" x2="689.42" y2="402.0" stroke="#c4c4c4" stroke-width="1.2"/>
<line x1="689.42" y1="415.8" x2="689.42" y2="417.8" stroke="#c4c4c4" stroke-width="1.2"/>
<line x1="696.11" y1="400.0" x2="696.11" y2="402.0" stroke="#c4c4c4" stroke-width="1.2"/>
<line x1="696.11" y1="415.8" x2="696.11" y2="417.8" stroke="#c4c4c4" stroke-width="1.2"/>
<line x1="702.80" y1="400.0" x2="702.80" y2="402.0" stroke="#c4c4c4" stroke-width="1.2"/>
<line x1="702.80" y1="415.8" x2="702.80" y2="417.8" stroke="#c4c4c4" stroke-width="1.2"/>
<line x1="709.49" y1="400.0" x2="709.49" y2="403.4" stroke="#c4c4c4" stroke-width="1.2"/>
<line x1="709.49" y1="414.40000000000003" x2="709.49" y2="417.8" stroke="#c4c4c4" stroke-width="1.2"/>
<line x1="716.18" y1="400.0" x2="716.18" y2="402.0" stroke="#c4c4c4" stroke-width="1.2"/>
<line x1="716.18" y1="415.8" x2="716.18" y2="417.8" stroke="#c4c4c4" stroke-width="1.2"/>
<line x1="722.86" y1="400.0" x2="722.86" y2="402.0" stroke="#c4c4c4" stroke-width="1.2"/>
<line x1="722.86" y1="415.8" x2="722.86" y2="417.8" stroke="#c4c4c4" stroke-width="1.2"/>
<line x1="729.55" y1="400.0" x2="729.55" y2="402.0" stroke="#c4c4c4" stroke-width="1.2"/>
<line x1="729.55" y1="415.8" x2="729.55" y2="417.8" stroke="#c4c4c4" stroke-width="1.2"/>
<line x1="736.24" y1="400.0" x2="736.24" y2="402.0" stroke="#c4c4c4" stroke-width="1.2"/>
<line x1="736.24" y1="415.8" x2="736.24" y2="417.8" stroke="#c4c4c4" stroke-width="1.2"/>
<line x1="742.93" y1="400.0" x2="742.93" y2="403.4" stroke="#c4c4c4" stroke-width="1.2"/>
<line x1="742.93" y1="414.40000000000003" x2="742.93" y2="417.8" stroke="#c4c4c4" stroke-width="1.2"/>
<line x1="749.62" y1="400.0" x2="749.62" y2="402.0" stroke="#c4c4c4" stroke-width="1.2"/>
<line x1="749.62" y1="415.8" x2="749.62" y2="417.8" stroke="#c4c4c4" stroke-width="1.2"/>
<line x1="756.30" y1="400.0" x2="756.30" y2="402.0" stroke="#c4c4c4" stroke-width="1.2"/>
<line x1="756.30" y1="415.8" x2="756.30" y2="417.8" stroke="#c4c4c4" stroke-width="1.2"/>
<line x1="762.99" y1="400.0" x2="762.99" y2="403.4" stroke="#c4c4c4" stroke-width="1.2"/>
<line x1="762.99" y1="414.40000000000003" x2="762.99" y2="417.8" stroke="#c4c4c4" stroke-width="1.2"/>
<line x1="769.68" y1="400.0" x2="769.68" y2="402.0" stroke="#c4c4c4" stroke-width="1.2"/>
<line x1="769.68" y1="415.8" x2="769.68" y2="417.8" stroke="#c4c4c4" stroke-width="1.2"/>
<line x1="776.37" y1="400.0" x2="776.37" y2="403.4" stroke="#c4c4c4" stroke-width="1.2"/>
<line x1="776.37" y1="414.40000000000003" x2="776.37" y2="417.8" stroke="#c4c4c4" stroke-width="1.2"/>
<line x1="783.06" y1="400.0" x2="783.06" y2="402.0" stroke="#c4c4c4" stroke-width="1.2"/>
<line x1="783.06" y1="415.8" x2="783.06" y2="417.8" stroke="#c4c4c4" stroke-width="1.2"/>
<line x1="789.74" y1="400.0" x2="789.74" y2="402.0" stroke="#c4c4c4" stroke-width="1.2"/>
<line x1="789.74" y1="415.8" x2="789.74" y2="417.8" stroke="#c4c4c4" stroke-width="1.2"/>
<line x1="796.43" y1="400.0" x2="796.43" y2="402.0" stroke="#c4c4c4" stroke-width="1.2"/>
<line x1="796.43" y1="415.8" x2="796.43" y2="417.8" stroke="#c4c4c4" stroke-width="1.2"/>
<line x1="803.12" y1="400.0" x2="803.12" y2="403.4" stroke="#c4c4c4" stroke-width="1.2"/>
<line x1="803.12" y1="414.40000000000003" x2="803.12" y2="417.8" stroke="#c4c4c4" stroke-width="1.2"/>
<line x1="809.81" y1="400.0" x2="809.81" y2="402.0" stroke="#c4c4c4" stroke-width="1.2"/>
<line x1="809.81" y1="415.8" x2="809.81" y2="417.8" stroke="#c4c4c4" stroke-width="1.2"/>
<line x1="816.50" y1="400.0" x2="816.50" y2="402.0" stroke="#c4c4c4" stroke-width="1.2"/>
<line x1="816.50" y1="415.8" x2="816.50" y2="417.8" stroke="#c4c4c4" stroke-width="1.2"/>
<line x1="823.18" y1="400.0" x2="823.18" y2="402.0" stroke="#c4c4c4" stroke-width="1.2"/>
<line x1="823.18" y1="415.8" x2="823.18" y2="417.8" stroke="#c4c4c4" stroke-width="1.2"/>
<line x1="829.87" y1="400.0" x2="829.87" y2="402.0" stroke="#c4c4c4" stroke-width="1.2"/>
<line x1="829.87" y1="415.8" x2="829.87" y2="417.8" stroke="#c4c4c4" stroke-width="1.2"/>
<line x1="836.56" y1="400.0" x2="836.56" y2="403.4" stroke="#c4c4c4" stroke-width="1.2"/>
<line x1="836.56" y1="414.40000000000003" x2="836.56" y2="417.8" stroke="#c4c4c4" stroke-width="1.2"/>
<line x1="843.25" y1="400.0" x2="843.25" y2="402.0" stroke="#c4c4c4" stroke-width="1.2"/>
<line x1="843.25" y1="415.8" x2="843.25" y2="417.8" stroke="#c4c4c4" stroke-width="1.2"/>
<line x1="849.94" y1="400.0" x2="849.94" y2="402.0" stroke="#c4c4c4" stroke-width="1.2"/>
<line x1="849.94" y1="415.8" x2="849.94" y2="417.8" stroke="#c4c4c4" stroke-width="1.2"/>
<line x1="856.62" y1="400.0" x2="856.62" y2="402.0" stroke="#c4c4c4" stroke-width="1.2"/>
<line x1="856.62" y1="415.8" x2="856.62" y2="417.8" stroke="#c4c4c4" stroke-width="1.2"/>
<line x1="863.31" y1="400.0" x2="863.31" y2="402.0" stroke="#c4c4c4" stroke-width="1.2"/>
<line x1="863.31" y1="415.8" x2="863.31" y2="417.8" stroke="#c4c4c4" stroke-width="1.2"/>
<line x1="870.00" y1="400.0" x2="870.00" y2="403.4" stroke="#c4c4c4" stroke-width="1.2"/>
<line x1="870.00" y1="414.40000000000003" x2="870.00" y2="417.8" stroke="#c4c4c4" stroke-width="1.2"/>
<line x1="876.69" y1="400.0" x2="876.69" y2="402.0" stroke="#c4c4c4" stroke-width="1.2"/>
<line x1="876.69" y1="415.8" x2="876.69" y2="417.8" stroke="#c4c4c4" stroke-width="1.2"/>
<line x1="883.38" y1="400.0" x2="883.38" y2="402.0" stroke="#c4c4c4" stroke-width="1.2"/>
<line x1="883.38" y1="415.8" x2="883.38" y2="417.8" stroke="#c4c4c4" stroke-width="1.2"/>
<line x1="885.8" y1="392.80" x2="889.0" y2="392.80" stroke="#bdbdbd" stroke-width="1.3"/>
<line x1="885.8" y1="366.00" x2="889.0" y2="366.00" stroke="#bdbdbd" stroke-width="1.3"/>
<line x1="885.8" y1="339.30" x2="889.0" y2="339.30" stroke="#bdbdbd" stroke-width="1.3"/>
<line x1="885.8" y1="314.00" x2="889.0" y2="314.00" stroke="#bdbdbd" stroke-width="1.3"/>
<line x1="885.8" y1="289.80" x2="889.0" y2="289.80" stroke="#bdbdbd" stroke-width="1.3"/>
<line x1="885.8" y1="265.50" x2="889.0" y2="265.50" stroke="#bdbdbd" stroke-width="1.3"/>
<line x1="885.8" y1="242.70" x2="889.0" y2="242.70" stroke="#bdbdbd" stroke-width="1.3"/>
<line x1="885.8" y1="220.30" x2="889.0" y2="220.30" stroke="#bdbdbd" stroke-width="1.3"/>
<line x1="885.8" y1="199.00" x2="889.0" y2="199.00" stroke="#bdbdbd" stroke-width="1.3"/>
<line x1="885.8" y1="178.40" x2="889.0" y2="178.40" stroke="#bdbdbd" stroke-width="1.3"/>
<line x1="885.8" y1="158.40" x2="889.0" y2="158.40" stroke="#bdbdbd" stroke-width="1.3"/>
<line x1="885.8" y1="138.80" x2="889.0" y2="138.80" stroke="#bdbdbd" stroke-width="1.3"/>
<line x1="885.8" y1="120.00" x2="889.0" y2="120.00" stroke="#bdbdbd" stroke-width="1.3"/>
<line x1="885.8" y1="102.40" x2="889.0" y2="102.40" stroke="#bdbdbd" stroke-width="1.3"/>
<line x1="885.8" y1="84.30" x2="889.0" y2="84.30" stroke="#bdbdbd" stroke-width="1.3"/>
<line x1="885.8" y1="66.90" x2="889.0" y2="66.90" stroke="#bdbdbd" stroke-width="1.3"/>
<line x1="885.8" y1="50.30" x2="889.0" y2="50.30" stroke="#bdbdbd" stroke-width="1.3"/>
<line x1="885.8" y1="33.50" x2="889.0" y2="33.50" stroke="#bdbdbd" stroke-width="1.3"/>
<line x1="885.8" y1="6.9" x2="889.0" y2="6.9" stroke="#bdbdbd" stroke-width="1.3"/>
<line x1="885.8" y1="12.7" x2="889.0" y2="12.7" stroke="#bdbdbd" stroke-width="1.3"/>
<line x1="885.8" y1="18.4" x2="889.0" y2="18.4" stroke="#bdbdbd" stroke-width="1.3"/>
<rect x="872.6" y="35.2" width="8.4" height="32.2" fill="#f5ee3c"/>
<clipPath id="cp"><rect x="22.6" y="28.0" width="863.1999999999999" height="371.4"/></clipPath>
<g clip-path="url(#cp)">
<line x1="23.4" y1="375.5" x2="23.4" y2="383" stroke="#000" stroke-width="1.4"/>
<line x1="27.31" y1="339.4" x2="27.31" y2="379.7" stroke="#000000" stroke-width="1.35"/>
<rect x="24.99" y="342.4" width="4.65" height="34.0" fill="#ffffff" stroke="#000000" stroke-width="1.45"/>
<line x1="34.00" y1="344.7" x2="34.00" y2="362.6" stroke="#d4093c" stroke-width="1.35"/>
<rect x="31.68" y="345.6" width="4.65" height="2.9" fill="#ffffff" stroke="#d4093c" stroke-width="1.45"/>
<line x1="40.69" y1="340.1" x2="40.69" y2="372.0" stroke="#d4093c" stroke-width="1.35"/>
<rect x="37.59" y="340.1" width="6.20" height="26.5" fill="#d4093c"/>
<line x1="47.38" y1="356.0" x2="47.38" y2="381.8" stroke="#d4093c" stroke-width="1.35"/>
<rect x="44.28" y="365.8" width="6.20" height="13.1" fill="#d4093c"/>
<line x1="54.06" y1="378.9" x2="54.06" y2="391.1" stroke="#d4093c" stroke-width="1.35"/>
<line x1="50.96" y1="387.1" x2="57.16" y2="387.1" stroke="#d4093c" stroke-width="1.6"/>
<line x1="60.75" y1="350.8" x2="60.75" y2="378.9" stroke="#000000" stroke-width="1.35"/>
<rect x="57.65" y="365.0" width="6.20" height="9.0" fill="#000000"/>
<line x1="67.44" y1="356.0" x2="67.44" y2="374.8" stroke="#000000" stroke-width="1.35"/>
<line x1="64.34" y1="364.6" x2="70.54" y2="364.6" stroke="#000000" stroke-width="1.6"/>
<line x1="74.13" y1="321.4" x2="74.13" y2="354.7" stroke="#000000" stroke-width="1.35"/>
<rect x="71.80" y="324.7" width="4.65" height="19.2" fill="#ffffff" stroke="#000000" stroke-width="1.45"/>
<line x1="80.82" y1="302.8" x2="80.82" y2="322.6" stroke="#000000" stroke-width="1.35"/>
<rect x="77.72" y="307.0" width="6.20" height="4.7" fill="#000000"/>
<line x1="87.50" y1="296.1" x2="87.50" y2="311.4" stroke="#000000" stroke-width="1.35"/>
<rect x="85.18" y="301.4" width="4.65" height="5.4" fill="#ffffff" stroke="#000000" stroke-width="1.45"/>
<line x1="94.19" y1="283.0" x2="94.19" y2="298.2" stroke="#000000" stroke-width="1.35"/>
<rect x="91.87" y="286.4" width="4.65" height="5.9" fill="#ffffff" stroke="#000000" stroke-width="1.45"/>
<line x1="100.88" y1="266.8" x2="100.88" y2="282.5" stroke="#000000" stroke-width="1.35"/>
<line x1="97.78" y1="271.4" x2="103.98" y2="271.4" stroke="#000000" stroke-width="1.6"/>
<line x1="107.57" y1="272.0" x2="107.57" y2="295.7" stroke="#d4093c" stroke-width="1.35"/>
<rect x="104.47" y="274.6" width="6.20" height="10.0" fill="#d4093c"/>
<line x1="114.26" y1="274.8" x2="114.26" y2="303.7" stroke="#d4093c" stroke-width="1.35"/>
<rect x="111.16" y="279.0" width="6.20" height="14.0" fill="#d4093c"/>
<line x1="120.94" y1="257.4" x2="120.94" y2="298.2" stroke="#000000" stroke-width="1.35"/>
<rect x="118.62" y="259.6" width="4.65" height="37.9" fill="#ffffff" stroke="#000000" stroke-width="1.45"/>
<line x1="127.63" y1="249.0" x2="127.63" y2="263.7" stroke="#000000" stroke-width="1.35"/>
<line x1="124.53" y1="251.2" x2="130.73" y2="251.2" stroke="#000000" stroke-width="1.6"/>
<line x1="134.32" y1="235.9" x2="134.32" y2="247.6" stroke="#000000" stroke-width="1.35"/>
<rect x="131.99" y="240.7" width="4.65" height="5.5" fill="#ffffff" stroke="#000000" stroke-width="1.45"/>
<line x1="141.01" y1="241.3" x2="141.01" y2="262.7" stroke="#d4093c" stroke-width="1.35"/>
<rect x="137.91" y="245.9" width="6.20" height="10.9" fill="#d4093c"/>
<line x1="147.70" y1="230.9" x2="147.70" y2="255.5" stroke="#000000" stroke-width="1.35"/>
<rect x="145.37" y="239.9" width="4.65" height="13.3" fill="#ffffff" stroke="#000000" stroke-width="1.45"/>
<line x1="154.38" y1="234.4" x2="154.38" y2="251.8" stroke="#d4093c" stroke-width="1.35"/>
<rect x="151.28" y="234.4" width="6.20" height="7.8" fill="#d4093c"/>
<line x1="161.07" y1="255.3" x2="161.07" y2="275.7" stroke="#d4093c" stroke-width="1.35"/>
<rect x="157.97" y="256.8" width="6.20" height="3.8" fill="#d4093c"/>
<line x1="167.76" y1="269.4" x2="167.76" y2="283.6" stroke="#d4093c" stroke-width="1.35"/>
<rect x="165.43" y="272.6" width="4.65" height="2.9" fill="#ffffff" stroke="#d4093c" stroke-width="1.45"/>
<line x1="174.45" y1="261.3" x2="174.45" y2="282.3" stroke="#000000" stroke-width="1.35"/>
<rect x="172.12" y="262.5" width="4.65" height="13.4" fill="#ffffff" stroke="#000000" stroke-width="1.45"/>
<line x1="181.14" y1="245.2" x2="181.14" y2="258.0" stroke="#000000" stroke-width="1.35"/>
<line x1="178.04" y1="250.3" x2="184.24" y2="250.3" stroke="#000000" stroke-width="1.6"/>
<line x1="187.82" y1="234.2" x2="187.82" y2="254.2" stroke="#000000" stroke-width="1.35"/>
<rect x="185.50" y="246.7" width="4.65" height="6.7" fill="#ffffff" stroke="#000000" stroke-width="1.45"/>
<line x1="194.51" y1="219.6" x2="194.51" y2="242.7" stroke="#000000" stroke-width="1.35"/>
<rect x="192.19" y="222.1" width="4.65" height="15.5" fill="#ffffff" stroke="#000000" stroke-width="1.45"/>
<line x1="201.20" y1="226.0" x2="201.20" y2="240.9" stroke="#d4093c" stroke-width="1.35"/>
<line x1="198.10" y1="229.9" x2="204.30" y2="229.9" stroke="#d4093c" stroke-width="1.6"/>
<line x1="207.89" y1="218.4" x2="207.89" y2="240.9" stroke="#d4093c" stroke-width="1.35"/>
<rect x="204.79" y="229.9" width="6.20" height="10.2" fill="#d4093c"/>
<line x1="214.58" y1="197.4" x2="214.58" y2="236.8" stroke="#000000" stroke-width="1.35"/>
<rect x="212.25" y="207.6" width="4.65" height="26.6" fill="#ffffff" stroke="#000000" stroke-width="1.45"/>
<line x1="221.26" y1="193.3" x2="221.26" y2="211.2" stroke="#000000" stroke-width="1.35"/>
<rect x="218.94" y="196.0" width="4.65" height="7.5" fill="#ffffff" stroke="#000000" stroke-width="1.45"/>
<line x1="227.95" y1="184.6" x2="227.95" y2="205.6" stroke="#d4093c" stroke-width="1.35"/>
<rect x="224.85" y="186.4" width="6.20" height="18.7" fill="#d4093c"/>
<line x1="234.64" y1="219.6" x2="234.64" y2="234.2" stroke="#d4093c" stroke-width="1.35"/>
<line x1="231.54" y1="223.0" x2="237.74" y2="223.0" stroke="#d4093c" stroke-width="1.6"/>
<line x1="241.33" y1="203.5" x2="241.33" y2="242.3" stroke="#d4093c" stroke-width="1.35"/>
<rect x="238.23" y="230.7" width="6.20" height="7.4" fill="#d4093c"/>
<line x1="248.02" y1="247.1" x2="248.02" y2="262.4" stroke="#d4093c" stroke-width="1.35"/>
<rect x="244.92" y="255.6" width="6.20" height="6.8" fill="#d4093c"/>
<line x1="254.70" y1="233.3" x2="254.70" y2="245.3" stroke="#000000" stroke-width="1.35"/>
<rect x="252.38" y="235.3" width="4.65" height="4.4" fill="#ffffff" stroke="#000000" stroke-width="1.45"/>
<line x1="261.39" y1="234.9" x2="261.39" y2="254.0" stroke="#d4093c" stroke-width="1.35"/>
<rect x="258.29" y="236.0" width="6.20" height="13.3" fill="#d4093c"/>
<line x1="268.08" y1="224.4" x2="268.08" y2="240.0" stroke="#000000" stroke-width="1.35"/>
<rect x="265.75" y="229.1" width="4.65" height="10.1" fill="#ffffff" stroke="#000000" stroke-width="1.45"/>
<line x1="274.77" y1="217.4" x2="274.77" y2="247.2" stroke="#d4093c" stroke-width="1.35"/>
<rect x="271.67" y="221.4" width="6.20" height="25.1" fill="#d4093c"/>
<line x1="281.46" y1="253.0" x2="281.46" y2="272.6" stroke="#d4093c" stroke-width="1.35"/>
<rect x="279.13" y="254.7" width="4.65" height="5.0" fill="#ffffff" stroke="#d4093c" stroke-width="1.45"/>
<line x1="288.14" y1="251.6" x2="288.14" y2="272.6" stroke="#d4093c" stroke-width="1.35"/>
<rect x="285.04" y="253.0" width="6.20" height="16.0" fill="#d4093c"/>
<line x1="294.83" y1="249.3" x2="294.83" y2="266.3" stroke="#000000" stroke-width="1.35"/>
<rect x="292.51" y="253.7" width="4.65" height="3.7" fill="#ffffff" stroke="#000000" stroke-width="1.45"/>
<line x1="301.52" y1="258.6" x2="301.52" y2="286.5" stroke="#d4093c" stroke-width="1.35"/>
<rect x="298.42" y="262.3" width="6.20" height="13.3" fill="#d4093c"/>
<line x1="308.21" y1="272.6" x2="308.21" y2="285.6" stroke="#d4093c" stroke-width="1.35"/>
<rect x="305.88" y="277.7" width="4.65" height="2.9" fill="#ffffff" stroke="#d4093c" stroke-width="1.45"/>
<line x1="314.90" y1="267.4" x2="314.90" y2="283.7" stroke="#000000" stroke-width="1.35"/>
<rect x="312.57" y="276.3" width="4.65" height="2.9" fill="#ffffff" stroke="#000000" stroke-width="1.45"/>
<line x1="321.58" y1="275.6" x2="321.58" y2="287.9" stroke="#d4093c" stroke-width="1.35"/>
<rect x="319.26" y="279.5" width="4.65" height="2.9" fill="#ffffff" stroke="#d4093c" stroke-width="1.45"/>
<line x1="328.27" y1="248.2" x2="328.27" y2="259.4" stroke="#000000" stroke-width="1.35"/>
<rect x="325.95" y="255.5" width="4.65" height="3.1" fill="#ffffff" stroke="#000000" stroke-width="1.45"/>
<line x1="334.96" y1="230.5" x2="334.96" y2="258.2" stroke="#000000" stroke-width="1.35"/>
<rect x="332.63" y="237.1" width="4.65" height="12.2" fill="#ffffff" stroke="#000000" stroke-width="1.45"/>
<line x1="341.65" y1="233.3" x2="341.65" y2="246.7" stroke="#d4093c" stroke-width="1.35"/>
<line x1="338.55" y1="240.2" x2="344.75" y2="240.2" stroke="#d4093c" stroke-width="1.6"/>
<line x1="348.34" y1="224.0" x2="348.34" y2="239.3" stroke="#000000" stroke-width="1.35"/>
<rect x="346.01" y="230.0" width="4.65" height="8.6" fill="#ffffff" stroke="#000000" stroke-width="1.45"/>
<line x1="355.02" y1="211.8" x2="355.02" y2="230.0" stroke="#000000" stroke-width="1.35"/>
<rect x="352.70" y="213.3" width="4.65" height="13.0" fill="#ffffff" stroke="#000000" stroke-width="1.45"/>
<line x1="361.71" y1="214.2" x2="361.71" y2="230.9" stroke="#d4093c" stroke-width="1.35"/>
<rect x="358.61" y="215.3" width="6.20" height="12.8" fill="#d4093c"/>
<line x1="368.40" y1="212.3" x2="368.40" y2="223.5" stroke="#000000" stroke-width="1.35"/>
<rect x="366.07" y="215.8" width="4.65" height="2.9" fill="#ffffff" stroke="#000000" stroke-width="1.45"/>
<line x1="375.09" y1="205.3" x2="375.09" y2="215.3" stroke="#000000" stroke-width="1.35"/>
<line x1="371.99" y1="210.7" x2="378.19" y2="210.7" stroke="#000000" stroke-width="1.6"/>
<line x1="381.78" y1="182.2" x2="381.78" y2="222.3" stroke="#000000" stroke-width="1.35"/>
<rect x="379.45" y="188.9" width="4.65" height="23.0" fill="#ffffff" stroke="#000000" stroke-width="1.45"/>
<line x1="388.46" y1="145.2" x2="388.46" y2="170.1" stroke="#000000" stroke-width="1.35"/>
<rect x="386.14" y="146.4" width="4.65" height="15.6" fill="#ffffff" stroke="#000000" stroke-width="1.45"/>
<line x1="395.15" y1="123.8" x2="395.15" y2="159.2" stroke="#000000" stroke-width="1.35"/>
<rect x="392.83" y="125.0" width="4.65" height="23.7" fill="#ffffff" stroke="#000000" stroke-width="1.45"/>
<line x1="401.84" y1="130.1" x2="401.84" y2="148.7" stroke="#d4093c" stroke-width="1.35"/>
<rect x="399.51" y="140.0" width="4.65" height="2.9" fill="#ffffff" stroke="#d4093c" stroke-width="1.45"/>
<line x1="408.53" y1="129.0" x2="408.53" y2="158.0" stroke="#d4093c" stroke-width="1.35"/>
<rect x="405.43" y="131.3" width="6.20" height="26.7" fill="#d4093c"/>
<line x1="415.22" y1="155.7" x2="415.22" y2="179.7" stroke="#d4093c" stroke-width="1.35"/>
<rect x="412.89" y="171.6" width="4.65" height="4.5" fill="#ffffff" stroke="#d4093c" stroke-width="1.45"/>
<line x1="421.90" y1="155.7" x2="421.90" y2="167.3" stroke="#000000" stroke-width="1.35"/>
<rect x="419.58" y="158.0" width="4.65" height="3.9" fill="#ffffff" stroke="#000000" stroke-width="1.45"/>
<line x1="428.59" y1="176.6" x2="428.59" y2="194.1" stroke="#d4093c" stroke-width="1.35"/>
<rect x="425.49" y="178.3" width="6.20" height="11.0" fill="#d4093c"/>
<line x1="435.28" y1="194.0" x2="435.28" y2="220.4" stroke="#d4093c" stroke-width="1.35"/>
<rect x="432.18" y="195.9" width="6.20" height="11.9" fill="#d4093c"/>
<line x1="441.97" y1="190.6" x2="441.97" y2="208.7" stroke="#000000" stroke-width="1.35"/>
<line x1="438.87" y1="195.8" x2="445.07" y2="195.8" stroke="#000000" stroke-width="1.6"/>
<line x1="448.66" y1="174.3" x2="448.66" y2="189.0" stroke="#000000" stroke-width="1.35"/>
<rect x="446.33" y="180.6" width="4.65" height="2.9" fill="#ffffff" stroke="#000000" stroke-width="1.45"/>
<line x1="455.34" y1="168.0" x2="455.34" y2="182.0" stroke="#000000" stroke-width="1.35"/>
<rect x="452.24" y="170.3" width="6.20" height="8.0" fill="#000000"/>
<line x1="462.03" y1="181.3" x2="462.03" y2="202.0" stroke="#d4093c" stroke-width="1.35"/>
<rect x="458.93" y="189.0" width="6.20" height="13.0" fill="#d4093c"/>
<line x1="468.72" y1="212.0" x2="468.72" y2="227.3" stroke="#d4093c" stroke-width="1.35"/>
<rect x="465.62" y="213.0" width="6.20" height="14.3" fill="#d4093c"/>
<line x1="475.41" y1="236.3" x2="475.41" y2="269.0" stroke="#d4093c" stroke-width="1.35"/>
<rect x="472.31" y="236.3" width="6.20" height="9.7" fill="#d4093c"/>
<line x1="482.10" y1="249.6" x2="482.10" y2="271.6" stroke="#d4093c" stroke-width="1.35"/>
<rect x="479.00" y="249.6" width="6.20" height="13.5" fill="#d4093c"/>
<line x1="488.78" y1="237.5" x2="488.78" y2="279.2" stroke="#000000" stroke-width="1.35"/>
<rect x="486.46" y="240.8" width="4.65" height="28.5" fill="#ffffff" stroke="#000000" stroke-width="1.45"/>
<line x1="495.47" y1="217.0" x2="495.47" y2="236.8" stroke="#000000" stroke-width="1.35"/>
<rect x="493.15" y="219.6" width="4.65" height="14.6" fill="#ffffff" stroke="#000000" stroke-width="1.45"/>
<line x1="502.16" y1="198.4" x2="502.16" y2="226.0" stroke="#000000" stroke-width="1.35"/>
<rect x="499.83" y="199.9" width="4.65" height="23.4" fill="#ffffff" stroke="#000000" stroke-width="1.45"/>
<line x1="508.85" y1="210.0" x2="508.85" y2="226.5" stroke="#d4093c" stroke-width="1.35"/>
<rect x="505.75" y="210.7" width="6.20" height="11.5" fill="#d4093c"/>
<line x1="515.54" y1="226.2" x2="515.54" y2="243.5" stroke="#d4093c" stroke-width="1.35"/>
<rect x="513.21" y="229.9" width="4.65" height="7.8" fill="#ffffff" stroke="#d4093c" stroke-width="1.45"/>
<line x1="522.22" y1="204.9" x2="522.22" y2="243.7" stroke="#d4093c" stroke-width="1.35"/>
<rect x="519.12" y="230.8" width="6.20" height="11.3" fill="#d4093c"/>
<line x1="528.91" y1="214.3" x2="528.91" y2="233.5" stroke="#000000" stroke-width="1.35"/>
<rect x="526.59" y="230.1" width="4.65" height="2.9" fill="#ffffff" stroke="#000000" stroke-width="1.45"/>
<line x1="535.60" y1="228.4" x2="535.60" y2="243.7" stroke="#d4093c" stroke-width="1.35"/>
<line x1="532.50" y1="236.0" x2="538.70" y2="236.0" stroke="#d4093c" stroke-width="1.6"/>
<line x1="542.29" y1="215.6" x2="542.29" y2="231.4" stroke="#000000" stroke-width="1.35"/>
<line x1="539.19" y1="230.2" x2="545.39" y2="230.2" stroke="#000000" stroke-width="1.6"/>
<line x1="548.98" y1="211.7" x2="548.98" y2="227.1" stroke="#000000" stroke-width="1.35"/>
<rect x="546.65" y="216.8" width="4.65" height="7.0" fill="#ffffff" stroke="#000000" stroke-width="1.45"/>
<line x1="555.66" y1="211.7" x2="555.66" y2="234.0" stroke="#000000" stroke-width="1.35"/>
<rect x="553.34" y="214.2" width="4.65" height="13.0" fill="#ffffff" stroke="#000000" stroke-width="1.45"/>
<line x1="562.35" y1="201.5" x2="562.35" y2="240.6" stroke="#d4093c" stroke-width="1.35"/>
<rect x="559.25" y="203.3" width="6.20" height="37.3" fill="#d4093c"/>
<line x1="569.04" y1="260.3" x2="569.04" y2="282.6" stroke="#d4093c" stroke-width="1.35"/>
<rect x="565.94" y="262.9" width="6.20" height="7.7" fill="#d4093c"/>
<line x1="575.73" y1="254.5" x2="575.73" y2="266.2" stroke="#000000" stroke-width="1.35"/>
<line x1="572.63" y1="262.8" x2="578.83" y2="262.8" stroke="#000000" stroke-width="1.6"/>
<line x1="582.42" y1="266.8" x2="582.42" y2="288.0" stroke="#d4093c" stroke-width="1.35"/>
<rect x="580.09" y="268.7" width="4.65" height="12.2" fill="#ffffff" stroke="#d4093c" stroke-width="1.45"/>
<line x1="589.10" y1="265.2" x2="589.10" y2="285.3" stroke="#d4093c" stroke-width="1.35"/>
<rect x="586.00" y="269.2" width="6.20" height="14.0" fill="#d4093c"/>
<line x1="595.79" y1="268.0" x2="595.79" y2="302.8" stroke="#d4093c" stroke-width="1.35"/>
<rect x="592.69" y="272.0" width="6.20" height="22.8" fill="#d4093c"/>
<line x1="602.48" y1="282.6" x2="602.48" y2="309.8" stroke="#d4093c" stroke-width="1.35"/>
<rect x="599.38" y="286.2" width="6.20" height="17.8" fill="#d4093c"/>
<line x1="609.17" y1="289.3" x2="609.17" y2="319.1" stroke="#d4093c" stroke-width="1.35"/>
<rect x="606.07" y="299.3" width="6.20" height="14.0" fill="#d4093c"/>
<line x1="615.86" y1="276.0" x2="615.86" y2="333.0" stroke="#000000" stroke-width="1.35"/>
<rect x="613.53" y="279.8" width="4.65" height="44.3" fill="#ffffff" stroke="#000000" stroke-width="1.45"/>
<line x1="622.54" y1="255.1" x2="622.54" y2="279.5" stroke="#000000" stroke-width="1.35"/>
<rect x="619.44" y="269.8" width="6.20" height="8.6" fill="#000000"/>
<line x1="629.23" y1="284.2" x2="629.23" y2="300.9" stroke="#d4093c" stroke-width="1.35"/>
<line x1="626.13" y1="294.7" x2="632.33" y2="294.7" stroke="#d4093c" stroke-width="1.6"/>
<line x1="635.92" y1="249.8" x2="635.92" y2="293.0" stroke="#000000" stroke-width="1.35"/>
<rect x="633.60" y="257.0" width="4.65" height="32.2" fill="#ffffff" stroke="#000000" stroke-width="1.45"/>
<line x1="642.61" y1="264.0" x2="642.61" y2="275.3" stroke="#d4093c" stroke-width="1.35"/>
<rect x="639.51" y="266.7" width="6.20" height="7.7" fill="#d4093c"/>
<line x1="649.30" y1="262.0" x2="649.30" y2="272.6" stroke="#000000" stroke-width="1.35"/>
<rect x="646.20" y="262.8" width="6.20" height="4.6" fill="#000000"/>
<line x1="655.98" y1="261.5" x2="655.98" y2="295.8" stroke="#d4093c" stroke-width="1.35"/>
<rect x="652.88" y="262.8" width="6.20" height="6.2" fill="#d4093c"/>
<line x1="662.67" y1="242.8" x2="662.67" y2="283.0" stroke="#000000" stroke-width="1.35"/>
<rect x="660.35" y="246.5" width="4.65" height="33.4" fill="#ffffff" stroke="#000000" stroke-width="1.45"/>
<line x1="669.36" y1="246.6" x2="669.36" y2="258.8" stroke="#d4093c" stroke-width="1.35"/>
<line x1="666.26" y1="255.0" x2="672.46" y2="255.0" stroke="#d4093c" stroke-width="1.6"/>
<line x1="676.05" y1="264.3" x2="676.05" y2="275.3" stroke="#d4093c" stroke-width="1.35"/>
<rect x="672.95" y="264.3" width="6.20" height="5.0" fill="#d4093c"/>
<line x1="682.74" y1="249.3" x2="682.74" y2="264.9" stroke="#000000" stroke-width="1.35"/>
<rect x="680.41" y="260.9" width="4.65" height="3.2" fill="#ffffff" stroke="#000000" stroke-width="1.45"/>
<line x1="689.42" y1="238.6" x2="689.42" y2="252.6" stroke="#000000" stroke-width="1.35"/>
<line x1="686.32" y1="244.0" x2="692.52" y2="244.0" stroke="#000000" stroke-width="1.6"/>
<line x1="696.11" y1="244.7" x2="696.11" y2="258.6" stroke="#d4093c" stroke-width="1.35"/>
<rect x="693.79" y="247.0" width="4.65" height="4.3" fill="#ffffff" stroke="#d4093c" stroke-width="1.45"/>
<line x1="702.80" y1="221.5" x2="702.80" y2="231.6" stroke="#000000" stroke-width="1.35"/>
<rect x="700.48" y="223.7" width="4.65" height="5.5" fill="#ffffff" stroke="#000000" stroke-width="1.45"/>
<line x1="709.49" y1="211.4" x2="709.49" y2="230.0" stroke="#000000" stroke-width="1.35"/>
<rect x="707.16" y="212.8" width="4.65" height="15.3" fill="#ffffff" stroke="#000000" stroke-width="1.45"/>
<line x1="716.18" y1="204.4" x2="716.18" y2="224.7" stroke="#000000" stroke-width="1.35"/>
<rect x="713.85" y="210.5" width="4.65" height="3.1" fill="#ffffff" stroke="#000000" stroke-width="1.45"/>
<line x1="722.86" y1="193.5" x2="722.86" y2="212.0" stroke="#000000" stroke-width="1.35"/>
<rect x="720.54" y="199.3" width="4.65" height="11.4" fill="#ffffff" stroke="#000000" stroke-width="1.45"/>
<line x1="729.55" y1="192.8" x2="729.55" y2="216.0" stroke="#d4093c" stroke-width="1.35"/>
<rect x="726.45" y="196.7" width="6.20" height="19.3" fill="#d4093c"/>
<line x1="736.24" y1="202.0" x2="736.24" y2="219.5" stroke="#000000" stroke-width="1.35"/>
<rect x="733.14" y="204.4" width="6.20" height="10.0" fill="#000000"/>
<line x1="742.93" y1="195.1" x2="742.93" y2="202.0" stroke="#000000" stroke-width="1.35"/>
<rect x="740.60" y="197.1" width="4.65" height="2.9" fill="#ffffff" stroke="#000000" stroke-width="1.45"/>
<line x1="749.62" y1="189.3" x2="749.62" y2="207.0" stroke="#000000" stroke-width="1.35"/>
<rect x="747.29" y="198.8" width="4.65" height="7.0" fill="#ffffff" stroke="#000000" stroke-width="1.45"/>
<line x1="756.30" y1="189.6" x2="756.30" y2="199.8" stroke="#000000" stroke-width="1.35"/>
<line x1="753.20" y1="192.8" x2="759.40" y2="192.8" stroke="#000000" stroke-width="1.6"/>
<line x1="762.99" y1="159.3" x2="762.99" y2="176.0" stroke="#000000" stroke-width="1.35"/>
<rect x="760.67" y="165.9" width="4.65" height="8.8" fill="#ffffff" stroke="#000000" stroke-width="1.45"/>
<line x1="769.68" y1="160.9" x2="769.68" y2="184.9" stroke="#d4093c" stroke-width="1.35"/>
<rect x="766.58" y="166.5" width="6.20" height="14.1" fill="#d4093c"/>
<line x1="776.37" y1="147.3" x2="776.37" y2="169.5" stroke="#000000" stroke-width="1.35"/>
<rect x="774.04" y="151.3" width="4.65" height="16.5" fill="#ffffff" stroke="#000000" stroke-width="1.45"/>
<line x1="783.06" y1="151.2" x2="783.06" y2="168.5" stroke="#d4093c" stroke-width="1.35"/>
<rect x="779.96" y="153.7" width="6.20" height="13.3" fill="#d4093c"/>
<line x1="789.74" y1="157.5" x2="789.74" y2="178.0" stroke="#000000" stroke-width="1.35"/>
<rect x="787.42" y="160.8" width="4.65" height="11.4" fill="#ffffff" stroke="#000000" stroke-width="1.45"/>
<line x1="796.43" y1="153.2" x2="796.43" y2="169.0" stroke="#000000" stroke-width="1.35"/>
<rect x="794.11" y="154.9" width="4.65" height="8.9" fill="#ffffff" stroke="#000000" stroke-width="1.45"/>
<line x1="803.12" y1="146.0" x2="803.12" y2="166.5" stroke="#000000" stroke-width="1.35"/>
<rect x="800.80" y="147.2" width="4.65" height="18.1" fill="#ffffff" stroke="#000000" stroke-width="1.45"/>
<line x1="809.81" y1="127.6" x2="809.81" y2="160.9" stroke="#000000" stroke-width="1.35"/>
<rect x="807.48" y="135.2" width="4.65" height="23.4" fill="#ffffff" stroke="#000000" stroke-width="1.45"/>
<line x1="816.50" y1="125.0" x2="816.50" y2="143.5" stroke="#d4093c" stroke-width="1.35"/>
<rect x="813.40" y="127.6" width="6.20" height="10.8" fill="#d4093c"/>
<line x1="823.18" y1="126.2" x2="823.18" y2="137.9" stroke="#000000" stroke-width="1.35"/>
<line x1="820.08" y1="127.0" x2="826.28" y2="127.0" stroke="#000000" stroke-width="1.6"/>
<line x1="829.87" y1="122.5" x2="829.87" y2="137.0" stroke="#d4093c" stroke-width="1.35"/>
<line x1="826.77" y1="130.7" x2="832.97" y2="130.7" stroke="#d4093c" stroke-width="1.6"/>
<line x1="836.56" y1="117.9" x2="836.56" y2="128.4" stroke="#000000" stroke-width="1.35"/>
<rect x="833.46" y="118.7" width="6.20" height="4.6" fill="#000000"/>
<line x1="843.25" y1="100.8" x2="843.25" y2="114.5" stroke="#000000" stroke-width="1.35"/>
<rect x="840.92" y="107.8" width="4.65" height="3.0" fill="#ffffff" stroke="#000000" stroke-width="1.45"/>
<line x1="849.94" y1="97.9" x2="849.94" y2="120.0" stroke="#d4093c" stroke-width="1.35"/>
<rect x="846.84" y="114.5" width="6.20" height="5.1" fill="#d4093c"/>
<line x1="856.62" y1="80.8" x2="856.62" y2="112.0" stroke="#000000" stroke-width="1.35"/>
<rect x="854.30" y="83.2" width="4.65" height="28.1" fill="#ffffff" stroke="#000000" stroke-width="1.45"/>
<line x1="863.31" y1="71.0" x2="863.31" y2="92.0" stroke="#d4093c" stroke-width="1.35"/>
<rect x="860.21" y="71.0" width="6.20" height="14.9" fill="#d4093c"/>
<line x1="870.00" y1="48.5" x2="870.00" y2="78.7" stroke="#000000" stroke-width="1.35"/>
<rect x="867.68" y="53.8" width="4.65" height="15.2" fill="#ffffff" stroke="#000000" stroke-width="1.45"/>
<line x1="876.69" y1="36.5" x2="876.69" y2="65.4" stroke="#000000" stroke-width="1.35"/>
<rect x="874.36" y="39.0" width="4.65" height="25.7" fill="#f5ee3c" stroke="#000000" stroke-width="1.45"/>
<polyline points="657.7,399.1 673.1,395.0 685.9,390.8 696.2,390.4 709.0,386.3 721.8,381.2 732.1,378.6 742.3,374.5 752.6,371.4 762.8,368.3 775.6,363.2 783.3,361.7 793.6,357.8 803.8,354.0 811.5,352.2 824.4,347.1 837.2,341.9 850.0,336.8 857.7,332.4 867.9,328.3 876.6,324.5" fill="none" stroke="#d81a45" stroke-width="1.6" stroke-linejoin="round" stroke-linecap="round"/>
<polyline points="158.9,399.2 169.0,393.0 180.7,386.0 194.8,374.5 212.7,359.1 223.0,349.4 228.1,345.8 240.9,333.0 252.4,325.8 262.6,315.6 275.4,305.9 289.5,297.7 295.0,294.0 307.8,286.8 321.9,281.2 336.0,276.0 350.0,268.9 364.1,263.3 378.2,256.1 392.3,245.8 402.5,239.4 412.8,235.1 423.0,231.8 435.8,229.2 448.6,224.8 455.0,222.6 465.3,221.9 480.6,222.6 490.9,221.9 498.6,220.6 506.3,219.1 519.1,218.7 544.7,218.7 557.6,219.4 565.3,221.3 582.1,221.4 594.9,224.3 608.6,226.8 623.1,226.8 629.1,228.5 635.1,226.8 669.3,226.8 675.3,228.2 689.8,228.2 696.6,229.9 715.4,229.9 724.1,232.1 733.2,234.9 742.2,235.2 749.5,236.3 769.5,236.3 776.8,234.9 787.6,234.1 796.7,233.0 809.4,229.0 820.3,224.9 829.4,221.8 840.3,219.1 849.4,216.3 858.5,211.8 867.6,207.3 876.8,200.3" fill="none" stroke="#2020a0" stroke-width="1.6" stroke-linejoin="round" stroke-linecap="round"/>
</g>
<text x="889.90" y="395.50" font-size="12.8" fill="#000" textLength="16.33" lengthAdjust="spacingAndGlyphs">23</text>
<text x="889.90" y="368.70" font-size="12.8" fill="#000" textLength="16.33" lengthAdjust="spacingAndGlyphs">24</text>
<text x="889.90" y="342.00" font-size="12.8" fill="#000" textLength="16.33" lengthAdjust="spacingAndGlyphs">25</text>
<text x="889.90" y="316.70" font-size="12.8" fill="#000" textLength="16.33" lengthAdjust="spacingAndGlyphs">26</text>
<text x="889.90" y="292.50" font-size="12.8" fill="#000" textLength="16.33" lengthAdjust="spacingAndGlyphs">27</text>
<text x="889.90" y="268.20" font-size="12.8" fill="#000" textLength="16.33" lengthAdjust="spacingAndGlyphs">28</text>
<text x="889.90" y="245.40" font-size="12.8" fill="#000" textLength="16.33" lengthAdjust="spacingAndGlyphs">29</text>
<text x="889.90" y="223.00" font-size="12.8" fill="#000" textLength="16.33" lengthAdjust="spacingAndGlyphs">30</text>
<text x="889.90" y="201.70" font-size="12.8" fill="#000" textLength="16.33" lengthAdjust="spacingAndGlyphs">31</text>
<text x="889.90" y="181.10" font-size="12.8" fill="#000" textLength="16.33" lengthAdjust="spacingAndGlyphs">32</text>
<text x="889.90" y="161.10" font-size="12.8" fill="#000" textLength="16.33" lengthAdjust="spacingAndGlyphs">33</text>
<text x="889.90" y="141.50" font-size="12.8" fill="#000" textLength="16.33" lengthAdjust="spacingAndGlyphs">34</text>
<text x="889.90" y="122.70" font-size="12.8" fill="#000" textLength="16.33" lengthAdjust="spacingAndGlyphs">35</text>
<text x="889.90" y="105.10" font-size="12.8" fill="#000" textLength="16.33" lengthAdjust="spacingAndGlyphs">36</text>
<text x="889.90" y="87.00" font-size="12.8" fill="#000" textLength="16.33" lengthAdjust="spacingAndGlyphs">37</text>
<text x="889.90" y="69.60" font-size="12.8" fill="#000" textLength="16.33" lengthAdjust="spacingAndGlyphs">38</text>
<text x="889.90" y="53.00" font-size="12.8" fill="#000" textLength="16.33" lengthAdjust="spacingAndGlyphs">39</text>
<text x="889.90" y="36.20" font-size="12.8" fill="#000" textLength="16.33" lengthAdjust="spacingAndGlyphs">40</text>
<text x="891.50" y="10.60" font-size="12.8" fill="#000" textLength="13.53" lengthAdjust="spacingAndGlyphs">10</text>
<text x="24.78" y="413.70" font-size="13.4" fill="#000" textLength="15.84" lengthAdjust="spacingAndGlyphs">28</text>
<text x="48.52" y="413.80" font-size="15.4" font-weight="bold" fill="#000" textLength="25.46" lengthAdjust="spacingAndGlyphs">Apr</text>
<text x="92.19" y="413.70" font-size="13.4" fill="#000" textLength="14.79" lengthAdjust="spacingAndGlyphs">11</text>
<text x="118.41" y="413.70" font-size="13.4" fill="#000" textLength="15.84" lengthAdjust="spacingAndGlyphs">18</text>
<text x="151.85" y="413.70" font-size="13.4" fill="#000" textLength="15.84" lengthAdjust="spacingAndGlyphs">25</text>
<text x="180.63" y="413.80" font-size="15.4" font-weight="bold" fill="#000" textLength="28.76" lengthAdjust="spacingAndGlyphs">May</text>
<text x="222.69" y="413.70" font-size="13.4" fill="#000" textLength="7.92" lengthAdjust="spacingAndGlyphs">9</text>
<text x="252.17" y="413.70" font-size="13.4" fill="#000" textLength="15.84" lengthAdjust="spacingAndGlyphs">16</text>
<text x="285.61" y="413.70" font-size="13.4" fill="#000" textLength="15.84" lengthAdjust="spacingAndGlyphs">23</text>
<text x="322.32" y="413.80" font-size="15.4" font-weight="bold" fill="#000" textLength="26.28" lengthAdjust="spacingAndGlyphs">Jun</text>
<text x="349.76" y="413.70" font-size="13.4" fill="#000" textLength="7.92" lengthAdjust="spacingAndGlyphs">6</text>
<text x="379.24" y="413.70" font-size="13.4" fill="#000" textLength="15.84" lengthAdjust="spacingAndGlyphs">13</text>
<text x="412.68" y="413.70" font-size="13.4" fill="#000" textLength="15.84" lengthAdjust="spacingAndGlyphs">21</text>
<text x="439.43" y="413.70" font-size="13.4" fill="#000" textLength="15.84" lengthAdjust="spacingAndGlyphs">27</text>
<text x="465.23" y="413.80" font-size="15.4" font-weight="bold" fill="#000" textLength="21.36" lengthAdjust="spacingAndGlyphs">Jul</text>
<text x="500.15" y="413.70" font-size="13.4" fill="#000" textLength="14.79" lengthAdjust="spacingAndGlyphs">11</text>
<text x="533.07" y="413.70" font-size="13.4" fill="#000" textLength="15.84" lengthAdjust="spacingAndGlyphs">18</text>
<text x="566.51" y="413.70" font-size="13.4" fill="#000" textLength="15.84" lengthAdjust="spacingAndGlyphs">25</text>
<text x="595.30" y="413.80" font-size="15.4" font-weight="bold" fill="#000" textLength="28.74" lengthAdjust="spacingAndGlyphs">Aug</text>
<text x="637.35" y="413.70" font-size="13.4" fill="#000" textLength="7.92" lengthAdjust="spacingAndGlyphs">8</text>
<text x="666.83" y="413.70" font-size="13.4" fill="#000" textLength="15.84" lengthAdjust="spacingAndGlyphs">15</text>
<text x="700.27" y="413.70" font-size="13.4" fill="#000" textLength="15.84" lengthAdjust="spacingAndGlyphs">22</text>
<text x="733.71" y="413.70" font-size="13.4" fill="#000" textLength="15.84" lengthAdjust="spacingAndGlyphs">29</text>
<text x="749.93" y="413.80" font-size="15.4" font-weight="bold" fill="#000" textLength="27.11" lengthAdjust="spacingAndGlyphs">Sep</text>
<text x="793.90" y="413.70" font-size="13.4" fill="#000" textLength="15.84" lengthAdjust="spacingAndGlyphs">12</text>
<text x="827.34" y="413.70" font-size="13.4" fill="#000" textLength="15.84" lengthAdjust="spacingAndGlyphs">19</text>
<text x="860.78" y="413.70" font-size="13.4" fill="#000" textLength="15.84" lengthAdjust="spacingAndGlyphs">26</text>
<g transform="translate(42.70,41.60) scale(1.14,1)"><text x="0" y="0" font-size="12.8" fill="#000" letter-spacing="0.727" xml:space="preserve">$TNX (Daily) 39.66</text></g>
<g transform="translate(39.30,55.80) scale(1.09,1)"><text x="0" y="0" font-size="12" fill="#0d0d9c" stroke="#0d0d9c" stroke-width="0.3" letter-spacing="0.036" xml:space="preserve">MA(50) 30.94</text></g>
<g transform="translate(39.30,70.30) scale(1.07,1)"><text x="0" y="0" font-size="12" fill="#d4093c" stroke="#d4093c" stroke-width="0.3" letter-spacing="0.059" xml:space="preserve">MA(200) 25.60</text></g>
<g transform="translate(39.60,84.70) scale(1.12,1)"><text x="0" y="0" font-size="12" fill="#444" letter-spacing="0.117" xml:space="preserve">Volume undef</text></g>
<g transform="translate(42.60,433.4) scale(1.03,1)"><text x="0" y="0.6" font-size="14.0" letter-spacing="1.150" xml:space="preserve">MACD(12,26,9) 2.054<tspan fill="#e8172c">, 1.616</tspan><tspan fill="#3a96d6">, 0.438</tspan></text></g>
<g fill="#000"><rect x="26.2" y="33.2" width="2.5" height="2.9" fill="#fff" stroke="#000" stroke-width="1.3"/><path d="M27.0 36.4 L28.6 41.2" stroke="#000" stroke-width="1.6" fill="none"/><rect x="28.9" y="34.6" width="3.9" height="6.7"/><rect x="30.2" y="33.2" width="1.3" height="9"/><rect x="34.0" y="33.0" width="2.6" height="7.2" fill="#fff" stroke="#000" stroke-width="1.5"/><rect x="34.7" y="40.4" width="1.3" height="1.4"/></g>
<line x1="25.4" y1="51.3" x2="36.8" y2="51.3" stroke="#0d0d9c" stroke-width="2.4"/>
<line x1="25.4" y1="65.8" x2="36.8" y2="65.8" stroke="#d4093c" stroke-width="2.4"/>
<g fill="#9a9a9a" stroke="#4a4a4a" stroke-width="0.9"><rect x="26.0" y="78.2" width="1.9" height="6"/><rect x="28.7" y="75.0" width="2.2" height="9.2"/><rect x="31.8" y="76.7" width="2.2" height="7.5"/><rect x="34.9" y="77.4" width="2.0" height="6.8"/></g>
<line x1="25.4" y1="427.4" x2="37.3" y2="427.4" stroke="#000" stroke-width="2.4"/>
<polygon points="882.9,199.2 888.5,192.45 927.2,192.45 927.2,205.95 888.5,205.95" fill="#fff" stroke="#0d0d9c" stroke-width="1.5"/>
<text x="889.00" y="204.20" font-size="14.5" fill="#000" textLength="35.86" lengthAdjust="spacingAndGlyphs">30.94</text>
<polygon points="882.9,323.6 888.5,316.85 927.2,316.85 927.2,330.35 888.5,330.35" fill="#fff" stroke="#d4093c" stroke-width="1.5"/>
<text x="889.00" y="328.60" font-size="14.5" fill="#000" textLength="35.86" lengthAdjust="spacingAndGlyphs">25.60</text>
<polygon points="882.9,37.7 888.5,30.950000000000003 927.2,30.950000000000003 927.2,44.45 888.5,44.45" fill="#fff" stroke="#000" stroke-width="1.5"/>
<text x="889.00" y="42.70" font-size="15.4" font-weight="bold" fill="#000" textLength="35.36" lengthAdjust="spacingAndGlyphs">39.66</text>
<polygon points="882.9,427.7 888.5,420.9 927.2,420.9 927.2,436 888.5,436" fill="#fff" stroke="#000" stroke-width="1.5"/>
<text x="889.30" y="431.80" font-size="14.5" fill="#000" textLength="34.67" lengthAdjust="spacingAndGlyphs">2.054</text>
<path d="M873.6 430.8 L876.2 427.8" stroke="#000" stroke-width="1.9" fill="none"/>
</svg>
</body></html>
